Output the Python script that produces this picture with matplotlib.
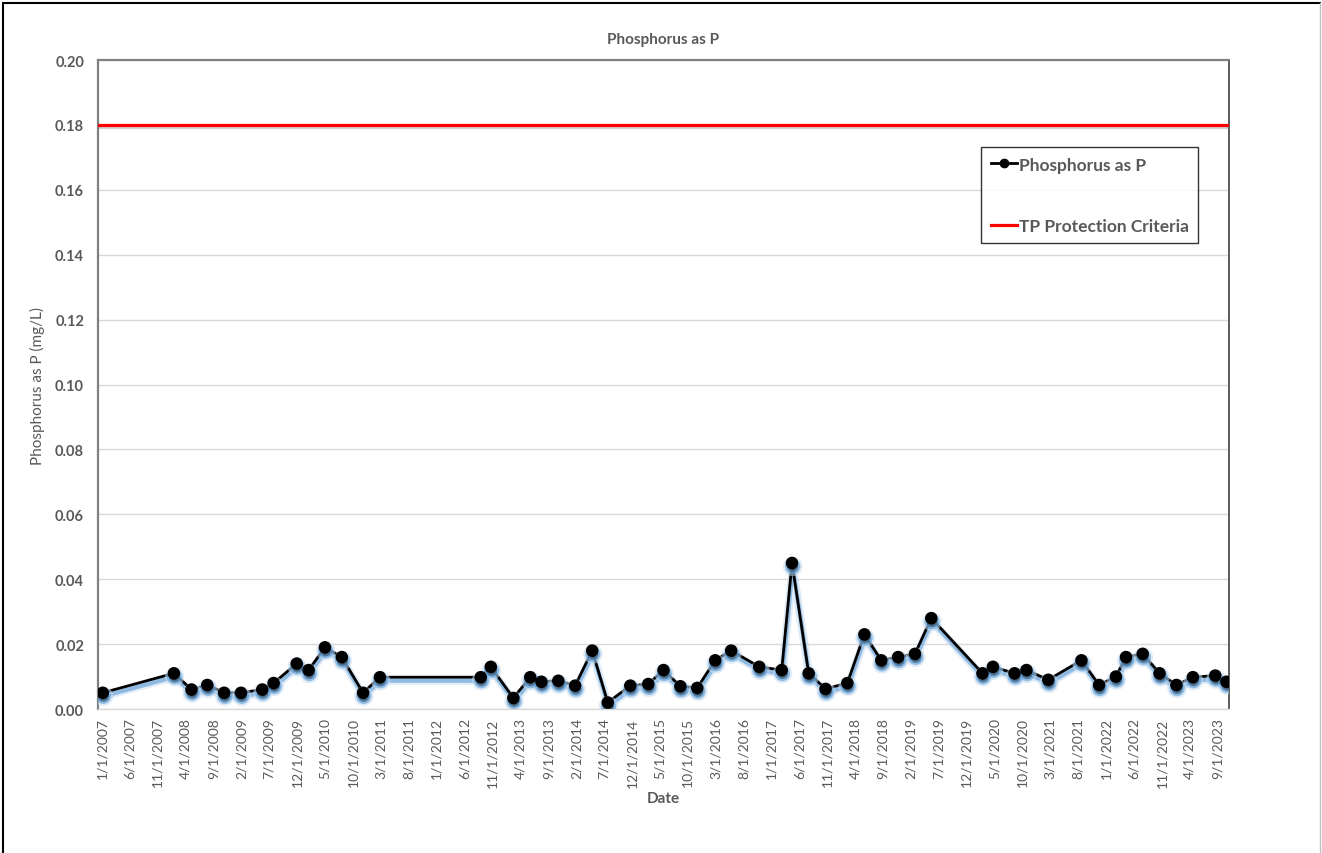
import numpy as np
import pandas as pd
import matplotlib
matplotlib.use('Agg')
import matplotlib.pyplot as plt
import matplotlib.dates as mdates
import matplotlib.patheffects as pe
from matplotlib.lines import Line2D

plt.rcParams['font.family'] = ['Lato', 'DejaVu Sans']

sample_dates = [
    '2007-01-05', '2008-01-28', '2008-05-03', '2008-07-28', '2008-10-28', '2009-01-28',
    '2009-05-24', '2009-07-25', '2009-11-28', '2010-02-01', '2010-05-01', '2010-08-01',
    '2010-11-25', '2011-02-25', '2012-08-28', '2012-10-22', '2013-02-22', '2013-05-25',
    '2013-07-25', '2013-10-25', '2014-01-25', '2014-04-28', '2014-07-22', '2014-11-22',
    '2015-02-28', '2015-05-22', '2015-08-22', '2015-11-22', '2016-02-28', '2016-05-25',
    '2016-10-25', '2017-02-25', '2017-04-22', '2017-07-22', '2017-10-22', '2018-02-18',
    '2018-05-22', '2018-08-22', '2018-11-22', '2019-02-22', '2019-05-22', '2020-02-25',
    '2020-04-22', '2020-08-18', '2020-10-22', '2021-02-18', '2021-08-18', '2021-11-22',
    '2022-02-22', '2022-04-18', '2022-07-18', '2022-10-18', '2023-01-18', '2023-04-18',
    '2023-08-18', '2023-10-18',
]
phosphorus = [
    0.005, 0.011, 0.006, 0.0074, 0.005, 0.005,
    0.006, 0.008, 0.014, 0.012, 0.019, 0.016,
    0.005, 0.0098, 0.0098, 0.013, 0.0034, 0.0098,
    0.0084, 0.0087, 0.0072, 0.018, 0.002, 0.0072,
    0.0077, 0.012, 0.007, 0.0065, 0.015, 0.018,
    0.013, 0.012, 0.045, 0.011, 0.0062, 0.008,
    0.023, 0.015, 0.016, 0.017, 0.028, 0.011,
    0.013, 0.011, 0.012, 0.009, 0.015, 0.0074,
    0.010, 0.016, 0.017, 0.011, 0.0074, 0.0098,
    0.0103, 0.0084,
]
criteria = 0.18

tick_dates = pd.date_range('2007-01-01', '2023-09-01', freq='5MS')
tick_labels = [f'{d.month}/{d.day}/{d.year}' for d in tick_dates]

dates = pd.to_datetime(sample_dates)
grey = '#595959'

fig = plt.figure(figsize=(13.22, 8.54), dpi=100)
ax = fig.add_axes([98 / 1322, 1 - 710 / 854, (1229 - 98) / 1322, (710 - 61) / 854])

# figure border like the pasted excel chart
fig.add_artist(Line2D([3 / 1322, 3 / 1322], [0, 1 - 4 / 854], color='black', lw=1.5,
                      transform=fig.transFigure))
fig.add_artist(Line2D([3 / 1322, 1320 / 1322], [1 - 4 / 854, 1 - 4 / 854], color='black', lw=1.5,
                      transform=fig.transFigure))
fig.add_artist(Line2D([1320 / 1322, 1320 / 1322], [0, 1 - 4 / 854], color='#bfbfbf', lw=1,
                      transform=fig.transFigure))

xmin, xmax = pd.Timestamp('2006-12-10'), pd.Timestamp('2023-11-01')

ax.plot([xmin, xmax], [criteria, criteria], color='#ff0000', lw=2.3,
        label='TP Protection Criteria', zorder=3,
        path_effects=[pe.SimpleLineShadow(offset=(1, -1.5), shadow_color='#7f7f7f', alpha=0.35),
                      pe.Normal()])

ax.plot(dates, phosphorus, color='black', lw=2, marker='o', markersize=8,
        markerfacecolor='black', markeredgecolor='black', label='Phosphorus as P', zorder=4,
        path_effects=[pe.Stroke(linewidth=6, foreground='#c5dcf0', alpha=0.55, offset=(0.5, -2.5)),
                      pe.Stroke(linewidth=3, foreground='#5b9bd5', alpha=0.6, offset=(0.5, -2.5)),
                      pe.Normal()])

ax.set_xlim(xmin, xmax)
ax.set_ylim(0, 0.20)
ax.set_yticks(np.arange(0, 0.201, 0.02))
ax.set_yticklabels([f'{v:.2f}' for v in np.arange(0, 0.201, 0.02)],
                   fontsize=10.5, fontweight='bold', color=grey)
ax.set_xticks(mdates.date2num(tick_dates))
ax.set_xticklabels(tick_labels, rotation=90, fontsize=10, color=grey)
ax.tick_params(axis='both', length=0, pad=6)
ax.tick_params(axis='y', pad=10)

ax.grid(axis='y', color='#d9d9d9', lw=1)
ax.set_axisbelow(True)
for side in ['top', 'left']:
    ax.spines[side].set_color('#808080')
    ax.spines[side].set_linewidth(1.6)
ax.spines['right'].set_color('#404040')
ax.spines['right'].set_linewidth(1.2)
ax.spines['bottom'].set_color('#d9d9d9')
ax.spines['bottom'].set_linewidth(1)

ax.set_title('Phosphorus as P', fontsize=11, fontweight='bold', color=grey, pad=12)
ax.set_xlabel('Date', fontsize=11, fontweight='bold', color=grey, labelpad=3)
ax.set_ylabel('Phosphorus as P (mg/L)', fontsize=11, color=grey, labelpad=7)

handles, labels = ax.get_legend_handles_labels()
leg = ax.legend(handles[::-1], labels[::-1], loc='upper left', bbox_to_anchor=(0.781, 0.866),
                fontsize=12.5, frameon=True, fancybox=False, edgecolor='black',
                handlelength=1.5, handletextpad=0.1, borderpad=0.55, labelspacing=2.6,
                borderaxespad=0)
leg.get_frame().set_linewidth(1)
for t in leg.get_texts():
    t.set_color(grey)
    t.set_fontweight('bold')
for h in leg.legend_handles:
    h.set_path_effects([])
    if h.get_label() == 'Phosphorus as P':
        h.set_markersize(6)

fig.savefig('out.png', dpi=100)
